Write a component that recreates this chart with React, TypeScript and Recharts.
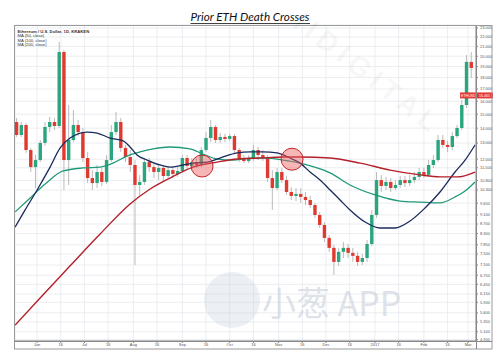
import React from 'react';
import { ComposedChart, Bar, Line, XAxis, YAxis, CartesianGrid, ReferenceDot, ReferenceLine } from 'recharts';

// [day offset from 2016-06-01, open, high, low, close] — 3-day candles
const candles: [number, number, number, number, number][] = [
  [-13, 14.43, 14.72, 13.40, 13.53], [-10, 13.53, 14.43, 13.40, 14.22], [-7, 14.22, 14.35, 12.38, 12.56],
  [-4, 12.56, 12.69, 11.26, 11.54], [-1, 11.54, 12.25, 10.40, 11.95], [2, 11.95, 13.20, 11.83, 13.01],
  [5, 13.01, 14.43, 12.82, 14.08], [8, 14.08, 14.80, 13.73, 14.43], [11, 14.43, 14.72, 13.87, 14.15],
  [14, 14.15, 21.47, 14.01, 20.42], [17, 20.42, 20.62, 10.30, 11.95], [20, 11.95, 15.70, 10.56, 13.20],
  [23, 13.20, 15.32, 13.07, 14.22], [26, 14.22, 14.58, 13.46, 13.73], [29, 13.73, 14.01, 11.83, 12.07],
  [32, 12.07, 12.44, 10.66, 10.93], [35, 10.93, 11.37, 10.30, 10.66], [38, 10.66, 11.66, 10.40, 11.26],
  [41, 11.26, 11.49, 10.51, 10.72], [44, 10.72, 12.25, 10.61, 11.95], [47, 11.95, 14.22, 11.83, 13.73],
  [50, 13.73, 15.17, 13.53, 14.43], [53, 14.43, 14.72, 12.44, 12.69], [56, 12.69, 12.88, 11.83, 12.13],
  [59, 12.13, 12.56, 11.26, 11.66], [62, 11.66, 11.95, 7.10, 10.56], [65, 10.56, 11.10, 10.05, 10.72],
  [68, 10.72, 12.07, 10.56, 11.83], [71, 11.83, 12.07, 11.26, 11.54], [74, 11.54, 11.83, 10.93, 11.26],
  [77, 11.26, 11.72, 10.82, 11.49], [80, 11.49, 11.66, 10.77, 11.04], [83, 11.04, 11.60, 10.93, 11.37],
  [86, 11.37, 11.54, 10.93, 11.15], [89, 11.15, 11.54, 10.99, 11.32], [92, 11.32, 12.25, 11.21, 12.07],
  [95, 12.07, 12.25, 11.37, 11.60], [98, 11.60, 12.07, 11.43, 11.83], [101, 11.83, 12.07, 11.49, 11.66],
  [104, 11.66, 12.75, 11.54, 12.56], [107, 12.56, 13.73, 12.44, 13.33], [110, 13.33, 14.58, 13.07, 14.08],
  [113, 14.08, 14.22, 13.01, 13.20], [116, 13.20, 13.66, 13.01, 13.40], [119, 13.40, 13.60, 13.07, 13.27],
  [122, 13.27, 13.60, 13.14, 13.46], [125, 13.46, 13.60, 12.38, 12.56], [128, 12.56, 12.69, 11.83, 12.07],
  [131, 12.07, 12.25, 11.77, 11.89], [134, 11.89, 12.25, 11.77, 12.07], [137, 12.07, 12.88, 11.89, 12.56],
  [140, 12.56, 12.75, 11.95, 12.25], [143, 12.25, 12.56, 11.89, 12.07], [146, 12.07, 12.25, 10.72, 10.93],
  [149, 10.93, 11.37, 9.33, 10.40], [152, 10.40, 11.49, 10.30, 11.26], [155, 11.26, 11.49, 10.66, 10.82],
  [158, 10.82, 11.04, 10.05, 10.20], [161, 10.20, 10.45, 9.80, 10.00], [164, 10.00, 10.40, 9.75, 10.10],
  [167, 10.10, 10.40, 9.66, 9.95], [170, 9.95, 10.20, 9.56, 9.80], [173, 9.80, 10.00, 9.42, 9.56],
  [176, 9.56, 9.66, 8.97, 9.10], [179, 9.10, 9.24, 8.53, 8.66], [182, 8.66, 8.79, 7.96, 8.12],
  [185, 8.12, 8.24, 7.58, 7.73], [188, 7.73, 7.84, 6.76, 7.21], [191, 7.21, 7.73, 7.07, 7.58],
  [194, 7.58, 7.96, 7.35, 7.73], [197, 7.73, 7.88, 7.35, 7.54], [200, 7.54, 7.73, 7.21, 7.43],
  [203, 7.43, 7.58, 7.07, 7.21], [206, 7.21, 7.50, 7.10, 7.35], [209, 7.35, 8.04, 7.21, 7.88],
  [212, 7.88, 9.33, 7.80, 9.10], [215, 9.10, 11.26, 8.97, 10.82], [218, 10.82, 11.10, 10.20, 10.51],
  [221, 10.51, 10.99, 10.30, 10.72], [224, 10.72, 10.93, 10.20, 10.40], [227, 10.40, 10.82, 10.30, 10.56],
  [230, 10.56, 11.04, 10.40, 10.82], [233, 10.82, 11.04, 10.45, 10.66], [236, 10.66, 11.10, 10.51, 10.82],
  [239, 10.82, 11.26, 10.66, 10.99], [242, 10.99, 11.49, 10.82, 11.26], [245, 11.26, 11.49, 10.93, 11.10],
  [248, 11.10, 11.95, 10.99, 11.66], [251, 11.66, 12.25, 11.49, 11.95], [254, 11.95, 13.53, 11.83, 13.20],
  [257, 13.20, 13.53, 12.69, 12.88], [260, 12.88, 13.14, 12.44, 12.75], [263, 12.75, 13.73, 12.56, 13.46],
  [266, 13.46, 14.22, 13.33, 14.01], [269, 14.01, 16.10, 13.87, 15.70], [272, 15.70, 20.12, 15.47, 19.44],
  [275, 19.44, 20.42, 17.95, 18.87],
];

const ma50: [number, number][] = [
  [-13.9, 8.57], [-7.6, 9.33], [0, 10.30], [8.2, 11.54], [14.6, 12.69], [20.9, 13.33], [31.7, 13.73],
  [38, 13.66], [46.2, 13.33], [54.5, 13.14], [58.9, 12.75], [63.3, 12.25], [69.7, 11.95], [77.9, 11.66],
  [84.2, 11.54], [92.5, 11.66], [98.8, 11.77], [107.7, 11.83], [115.9, 12.07], [126.7, 12.38],
  [134.9, 12.44], [143.1, 12.44], [152, 12.38], [160.2, 12.07], [166.6, 11.77], [172.9, 11.26],
  [179.2, 10.82], [185.6, 10.30], [191.9, 9.80], [198.2, 9.33], [207.7, 8.79], [217.2, 8.53],
  [226.7, 8.53], [236.2, 8.83], [245.7, 9.42], [255.2, 10.20], [264.7, 11.26], [271.1, 11.95], [277.4, 12.88],
];

const ma100: [number, number][] = [
  [-13.9, 9.24], [-4.4, 9.90], [5.1, 10.61], [16.5, 11.32], [29.1, 11.49], [39.9, 11.54], [48.1, 11.77],
  [57, 12.19], [65.2, 12.44], [73.5, 12.63], [84.2, 12.75], [96.9, 12.63], [105.1, 12.31], [114, 12.01],
  [124.1, 11.95], [134.9, 12.07], [145.7, 12.07], [155.8, 11.95], [166.6, 11.77], [177.3, 11.49],
  [185.6, 11.21], [198.2, 10.56], [214.1, 10.05], [229.9, 9.75], [242.6, 9.70], [255.2, 9.66],
  [264.7, 9.95], [271.1, 10.25], [277.4, 10.72],
];

const ma200: [number, number][] = [
  [-13.9, 5.27], [1.9, 6.03], [20.9, 7.07], [39.9, 8.28], [58.9, 9.61], [71.6, 10.35], [84.2, 10.93],
  [98.8, 11.54], [114, 11.83], [126.7, 12.01], [141.2, 12.07], [155.8, 12.13], [166.6, 12.13],
  [185.6, 12.07], [204.6, 11.77], [223.6, 11.37], [242.6, 11.10], [255.2, 10.99], [266, 10.99], [277.4, 11.26],
];

const crosses: [number, number][] = [[104.5, 11.6], [161.5, 12.0]];

const xTickDays = [0, 15, 30, 45, 61, 76, 92, 107, 122, 137, 153, 168, 183, 198, 214, 229, 245, 260, 273];
const xTickLabels = ['Jun', '16', 'Jul', '16', 'Aug', '16', 'Sep', '16', 'Oct', '16', 'Nov', '16', 'Dec', '16', '2017', '16', 'Feb', '16', 'Mar'];

const yTicks = [4.9, 5.1, 5.35, 5.6, 5.9, 6.15, 6.45, 6.75, 7.1, 7.5, 7.85, 8.3, 8.7, 9.1, 9.65, 10.3, 10.8, 11.5, 12, 13, 14, 15, 16, 17, 18, 19, 20, 21, 22, 23];

const lastPrice = 16.465;

const GREEN = '#2aa57e';
const RED = '#e0392f';
const WICK = '#a9a9a9';
const BODY_W = 3.4;

type Row = { day: number; o?: number; h?: number; l?: number; c?: number; range?: [number, number]; ma50?: number; ma100?: number; ma200?: number };

function buildData(): Row[] {
  const rows = new Map<number, Row>();
  const get = (d: number) => {
    if (!rows.has(d)) rows.set(d, { day: d });
    return rows.get(d)!;
  };
  candles.forEach(([d, o, h, l, c]) => Object.assign(get(d), { o, h, l, c, range: [l, h] }));
  ma50.forEach(([d, v]) => (get(d).ma50 = v));
  ma100.forEach(([d, v]) => (get(d).ma100 = v));
  ma200.forEach(([d, v]) => (get(d).ma200 = v));
  return Array.from(rows.values()).sort((a, b) => a.day - b.day);
}

const data = buildData();

const Candle = (props: any) => {
  const { x, y, width, height, payload } = props;
  if (!payload || payload.o == null || !isFinite(y) || !isFinite(height) || !isFinite(x)) return <g />;
  const { o, h, l, c } = payload;
  const top = Math.min(y, y + height);
  const span = Math.abs(height);
  const lh = Math.log(h);
  const ll = Math.log(l);
  const py = (v: number) => top + (span * (lh - Math.log(v))) / (lh - ll);
  const up = c >= o;
  const bt = py(Math.max(o, c));
  const bb = py(Math.min(o, c));
  const cx = x + (width || 0) / 2;
  return (
    <g>
      <line x1={cx} x2={cx} y1={top} y2={top + span} stroke={WICK} strokeWidth={0.8} />
      <rect x={cx - BODY_W / 2} y={bt} width={BODY_W} height={Math.max(0.8, bb - bt)} fill={up ? GREEN : RED} />
    </g>
  );
};

const PriceTag = (props: any) => {
  const vb = props.viewBox || {};
  const right = (vb.x || 0) + (vb.width || 0);
  const y = vb.y || 0;
  return (
    <g>
      <rect x={right - 16} y={y - 3} width={33} height={6} fill="#e53935" />
      <text x={right - 15} y={y + 1.4} fontSize={3.6} fill="#fff" fontFamily="Liberation Sans">ETHUSD</text>
      <text x={right + 3} y={y + 1.4} fontSize={3.6} fill="#fff" fontFamily="Liberation Sans">{lastPrice.toFixed(3)}</text>
    </g>
  );
};

export default function App() {
  const tickStyle = { fontSize: 4, fill: '#555', fontFamily: 'Liberation Sans' };
  return (
    <div style={{ position: 'absolute', left: 0, top: 0, width: 500, height: 361, background: '#fff' }}>
      <ComposedChart
        width={500}
        height={361}
        data={data}
        margin={{ top: 25, right: 0, bottom: 0, left: 15 }}
      >
        <CartesianGrid stroke="#e6e8ee" strokeWidth={0.8} />
        <XAxis
          dataKey="day"
          type="number"
          domain={[-14, 278]}
          allowDataOverflow
          ticks={xTickDays}
          interval={0}
          tickFormatter={(v: number) => xTickLabels[xTickDays.indexOf(v)] ?? ''}
          height={20}
          tick={tickStyle}
          tickSize={2}
          tickMargin={0}
          stroke="#888"
        />
        <YAxis
          orientation="right"
          scale="log"
          type="number"
          domain={[4.87, 23.35]}
          allowDataOverflow
          ticks={yTicks}
          interval={0}
          tickFormatter={(v: number) => v.toFixed(3)}
          width={24}
          tick={tickStyle}
          tickSize={2}
          tickMargin={2}
          stroke="#888"
        />
        <Bar dataKey="range" barSize={3.5} shape={<Candle />} isAnimationActive={false} />
        <Line dataKey="ma100" type="monotone" stroke="#1f9a78" strokeWidth={1.3} dot={false} connectNulls isAnimationActive={false} />
        <Line dataKey="ma50" type="monotone" stroke="#1b2a5c" strokeWidth={1.3} dot={false} connectNulls isAnimationActive={false} />
        <Line dataKey="ma200" type="monotone" stroke="#b3202a" strokeWidth={1.4} dot={false} connectNulls isAnimationActive={false} />
        {crosses.map(([d, v], i) => (
          <ReferenceDot key={i} x={d} y={v} r={11} fill="rgba(238,95,95,0.45)" stroke="#c0282d" strokeWidth={1} ifOverflow="visible" />
        ))}
        <ReferenceLine y={lastPrice} stroke="none" label={<PriceTag />} ifOverflow="visible" />
      </ComposedChart>
      <svg width={500} height={361} style={{ position: 'absolute', left: 0, top: 0, pointerEvents: 'none' }}>
        <rect x={14.5} y={25.5} width={477.5} height={323.5} fill="none" stroke="#9a9a9a" strokeWidth={1} />
        <line x1={14.5} x2={492} y1={341.5} y2={341.5} stroke="#888" strokeWidth={1} />
        <line x1={476.5} x2={476.5} y1={25.5} y2={349} stroke="#888" strokeWidth={1} />
        <text x={250} y={20.5} textAnchor="middle" fontSize={11.5} fontStyle="italic" fontFamily="Lato, 'Open Sans', sans-serif" fill="#111" textLength={119} lengthAdjust="spacingAndGlyphs">
          Prior ETH Death Crosses
        </text>
        <line x1={190.5} x2={310} y1={23.5} y2={23.5} stroke="#111" strokeWidth={0.8} />
        <g fontFamily="Liberation Sans" fontSize={4.2} fill="#333">
          <text x={17.5} y={32.5} fontWeight="bold">Ethereum / U.S. Dollar, 1D, KRAKEN</text>
          <text x={17.5} y={37.2}>MA (50, close)</text>
          <text x={17.5} y={41.6}>MA (100, close)</text>
          <text x={17.5} y={46}>MA (200, close)</text>
        </g>
        <text x={292} y={26} fontSize={28} fontFamily="Liberation Sans" fontWeight="bold" letterSpacing={6} fill="#000" fillOpacity={0.05} transform="rotate(38 292 26)">
          IIDIGITAL
        </text>
        <circle cx={232} cy={300} r={28} fill="#c9d2dc" fillOpacity={0.35} />
        <text x={262} y={316} fontSize={34} fontFamily="Noto Sans CJK SC" fill="#c3ccd6" fillOpacity={0.55}>小葱 APP</text>
      </svg>
    </div>
  );
}
